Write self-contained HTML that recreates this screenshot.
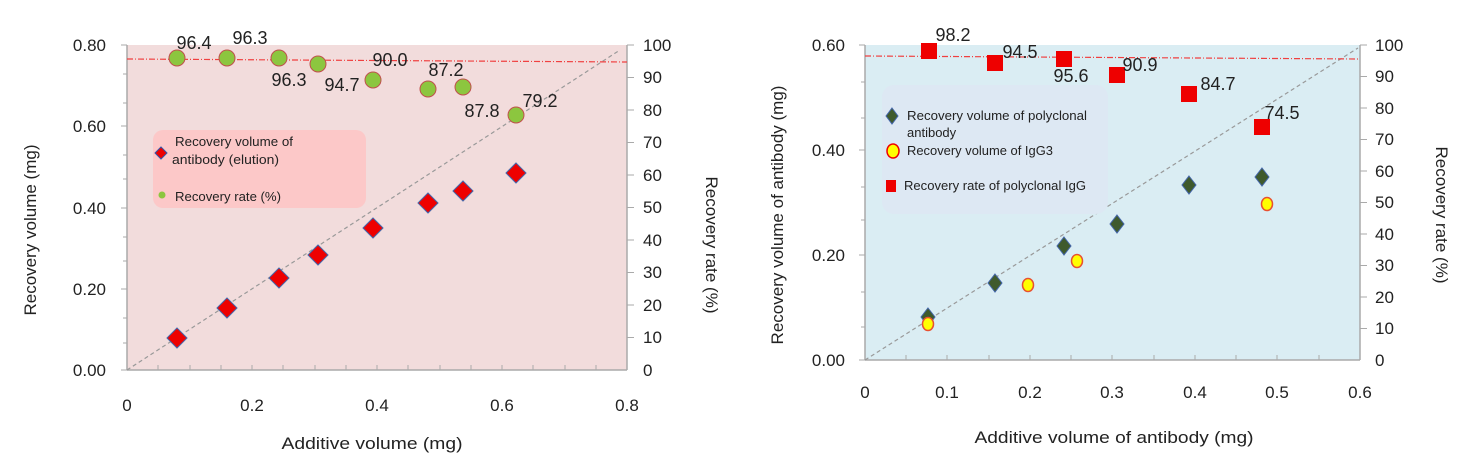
<!DOCTYPE html><html><head><meta charset="utf-8"><style>body{margin:0;background:#fff}svg{display:block;font-family:"Liberation Sans",sans-serif}</style></head><body>
<svg width="1468" height="474" viewBox="0 0 1468 474">
<!-- LEFT CHART -->
<rect x="127" y="45" width="500" height="325" fill="#f2dcdc"/>
<g stroke="#aaa" stroke-width="1.5" fill="none">
<line x1="127" y1="45" x2="127" y2="370"/><line x1="127" y1="370" x2="627" y2="370"/><line x1="627" y1="45" x2="627" y2="370"/>
</g>
<g stroke="#aaa" stroke-width="1">
<path d="M121 45h6M121 126h6M121 208h6M121 289h6M121 370h6M123 74h4M123 103h4M123 155h4M123 179h4M123 237h4M123 261h4M123 318h4M123 343h4"/>
<path d="M627 45h7M627 77.5h7M627 110h7M627 142.5h7M627 175h7M627 207.5h7M627 240h7M627 272.5h7M627 305h7M627 337.5h7"/>
<path d="M158 370v-5M190 370v-5M221 370v-5M252 370v-5M283 370v-5M315 370v-5M346 370v-5M377 370v-5M408 370v-5M440 370v-5M471 370v-5M502 370v-5M533 370v-5M565 370v-5M596 370v-5"/>
</g>
<line x1="127" y1="370" x2="620" y2="50" stroke="#999" stroke-width="1.2" stroke-dasharray="4,3"/>
<line x1="127" y1="59" x2="627" y2="62" stroke="#f04040" stroke-width="1.2" stroke-dasharray="6,2,1,2"/>
<g font-size="17" fill="#222" text-anchor="end">
<text x="106" y="51">0.80</text><text x="106" y="132">0.60</text><text x="106" y="214">0.40</text><text x="106" y="295">0.20</text><text x="106" y="376">0.00</text>
</g>
<g font-size="17" fill="#222">
<text x="643" y="51">100</text><text x="643" y="83">90</text><text x="643" y="116">80</text><text x="643" y="148">70</text><text x="643" y="181">60</text><text x="643" y="213">50</text><text x="643" y="246">40</text><text x="643" y="278">30</text><text x="643" y="311">20</text><text x="643" y="343">10</text><text x="643" y="376">0</text>
</g>
<g font-size="17" fill="#222" text-anchor="middle">
<text x="127" y="411">0</text><text x="252" y="411">0.2</text><text x="377" y="411">0.4</text><text x="502" y="411">0.6</text><text x="627" y="411">0.8</text>
<text x="372" y="449" textLength="181" lengthAdjust="spacingAndGlyphs">Additive volume (mg)</text>
<text transform="translate(36,230) rotate(-90)">Recovery volume (mg)</text>
<text transform="translate(706,245) rotate(90)">Recovery rate (%)</text>
</g>
<rect x="153" y="130" width="213" height="78" rx="10" fill="#fcc8c8"/>
<path d="M161 147l6 6-6 6-6-6z" fill="#e00" stroke="#3355aa" stroke-width="1"/>
<circle cx="162" cy="195" r="3.5" fill="#8cc63f"/>
<g font-size="13" fill="#222"><text x="175" y="146" textLength="118" lengthAdjust="spacingAndGlyphs">Recovery volume of</text><text x="172" y="164" textLength="107" lengthAdjust="spacingAndGlyphs">antibody (elution)</text><text x="175" y="201" textLength="106" lengthAdjust="spacingAndGlyphs">Recovery rate (%)</text></g>
<g fill="#e00" stroke="#4466aa" stroke-width="1">
<path d="M177 328l10 10-10 10-10-10z"/><path d="M227 298l10 10-10 10-10-10z"/><path d="M279 268l10 10-10 10-10-10z"/><path d="M318 245l10 10-10 10-10-10z"/><path d="M373 218l10 10-10 10-10-10z"/><path d="M428 193l10 10-10 10-10-10z"/><path d="M463 181l10 10-10 10-10-10z"/><path d="M516 163l10 10-10 10-10-10z"/>
</g>
<g fill="#8cc63f" stroke="#c0504d" stroke-width="1">
<circle cx="177" cy="58" r="8"/><circle cx="227" cy="58" r="8"/><circle cx="279" cy="58" r="8"/><circle cx="318" cy="64" r="8"/><circle cx="373" cy="80" r="8"/><circle cx="428" cy="89" r="8"/><circle cx="463" cy="87" r="8"/><circle cx="516" cy="115" r="8"/>
</g>
<g font-size="18" fill="#222" text-anchor="middle">
<text x="194" y="49">96.4</text><text x="250" y="44">96.3</text><text x="289" y="86">96.3</text><text x="342" y="91">94.7</text><text x="390" y="66">90.0</text><text x="446" y="76">87.2</text><text x="482" y="117">87.8</text><text x="540" y="107">79.2</text>
</g>

<!-- RIGHT CHART -->
<rect x="865" y="45" width="495" height="315" fill="#daedf3"/>
<g stroke="#aaa" stroke-width="1.5" fill="none">
<line x1="865" y1="45" x2="865" y2="360"/><line x1="865" y1="360" x2="1360" y2="360"/><line x1="1360" y1="45" x2="1360" y2="360"/>
</g>
<g stroke="#aaa" stroke-width="1">
<path d="M859 45h6M859 150h6M859 255h6M859 360h6M861 82h4M861 118h4M861 187h4M861 220h4M861 292h4M861 327h4"/>
<path d="M1360 45h7M1360 76.5h7M1360 108h7M1360 139.5h7M1360 171h7M1360 202.5h7M1360 234h7M1360 265.5h7M1360 297h7M1360 328.5h7"/>
<path d="M906 360v-5M947 360v-5M989 360v-5M1030 360v-5M1071 360v-5M1112 360v-5M1154 360v-5M1195 360v-5M1236 360v-5M1277 360v-5M1319 360v-5"/>
</g>
<line x1="865" y1="360" x2="1358" y2="48" stroke="#999" stroke-width="1.2" stroke-dasharray="4,3"/>
<line x1="865" y1="56" x2="1360" y2="59" stroke="#f04040" stroke-width="1.2" stroke-dasharray="6,2,1,2"/>
<g font-size="17" fill="#222" text-anchor="end">
<text x="845" y="51">0.60</text><text x="845" y="156">0.40</text><text x="845" y="261">0.20</text><text x="845" y="366">0.00</text>
</g>
<g font-size="17" fill="#222">
<text x="1375" y="51">100</text><text x="1375" y="82">90</text><text x="1375" y="114">80</text><text x="1375" y="145">70</text><text x="1375" y="177">60</text><text x="1375" y="208">50</text><text x="1375" y="240">40</text><text x="1375" y="271">30</text><text x="1375" y="303">20</text><text x="1375" y="334">10</text><text x="1375" y="366">0</text>
</g>
<g font-size="17" fill="#222" text-anchor="middle">
<text x="865" y="398">0</text><text x="947" y="398">0.1</text><text x="1030" y="398">0.2</text><text x="1112" y="398">0.3</text><text x="1195" y="398">0.4</text><text x="1277" y="398">0.5</text><text x="1360" y="398">0.6</text>
<text x="1114" y="443" textLength="279" lengthAdjust="spacingAndGlyphs">Additive volume of antibody (mg)</text>
<text transform="translate(783,215) rotate(-90)">Recovery volume of antibody (mg)</text>
<text transform="translate(1436,215) rotate(90)">Recovery rate (%)</text>
</g>
<rect x="882" y="85" width="226" height="129" rx="12" fill="#dde8f3"/>
<path d="M892 108l6 8-6 8-6-8z" fill="#3f5a2d" stroke="#4466aa" stroke-width="1"/>
<ellipse cx="893" cy="151" rx="6" ry="7" fill="#ff0" stroke="#e00" stroke-width="1.5"/>
<rect x="886" y="180" width="10" height="12" fill="#e00"/>
<g font-size="13" fill="#222"><text x="907" y="120" textLength="180" lengthAdjust="spacingAndGlyphs">Recovery volume of polyclonal</text><text x="907" y="137">antibody</text><text x="907" y="155" textLength="146" lengthAdjust="spacingAndGlyphs">Recovery volume of IgG3</text><text x="904" y="190" textLength="182" lengthAdjust="spacingAndGlyphs">Recovery rate of polyclonal IgG</text></g>
<g fill="#3f5a2d" stroke="#4466aa" stroke-width="1">
<path d="M928 308l7 9-7 9-7-9z"/><path d="M995 274l7 9-7 9-7-9z"/><path d="M1064 237l7 9-7 9-7-9z"/><path d="M1117 215l7 9-7 9-7-9z"/><path d="M1189 176l7 9-7 9-7-9z"/><path d="M1262 168l7 9-7 9-7-9z"/>
</g>
<g fill="#ff0" stroke="#e85030" stroke-width="1.5">
<ellipse cx="928" cy="324" rx="5.5" ry="6.5"/><ellipse cx="1028" cy="285" rx="5.5" ry="6.5"/><ellipse cx="1077" cy="261" rx="5.5" ry="6.5"/><ellipse cx="1267" cy="204" rx="5.5" ry="6.5"/>
</g>
<g fill="#e00">
<rect x="921" y="43" width="16" height="16"/><rect x="987" y="55" width="16" height="16"/><rect x="1056" y="51" width="16" height="16"/><rect x="1109" y="67" width="16" height="16"/><rect x="1181" y="86" width="16" height="16"/><rect x="1254" y="119" width="16" height="16"/>
</g>
<g font-size="18" fill="#222" text-anchor="middle">
<text x="953" y="41">98.2</text><text x="1020" y="58">94.5</text><text x="1071" y="82">95.6</text><text x="1140" y="71">90.9</text><text x="1218" y="90">84.7</text><text x="1282" y="119">74.5</text>
</g>
</svg></body></html>
